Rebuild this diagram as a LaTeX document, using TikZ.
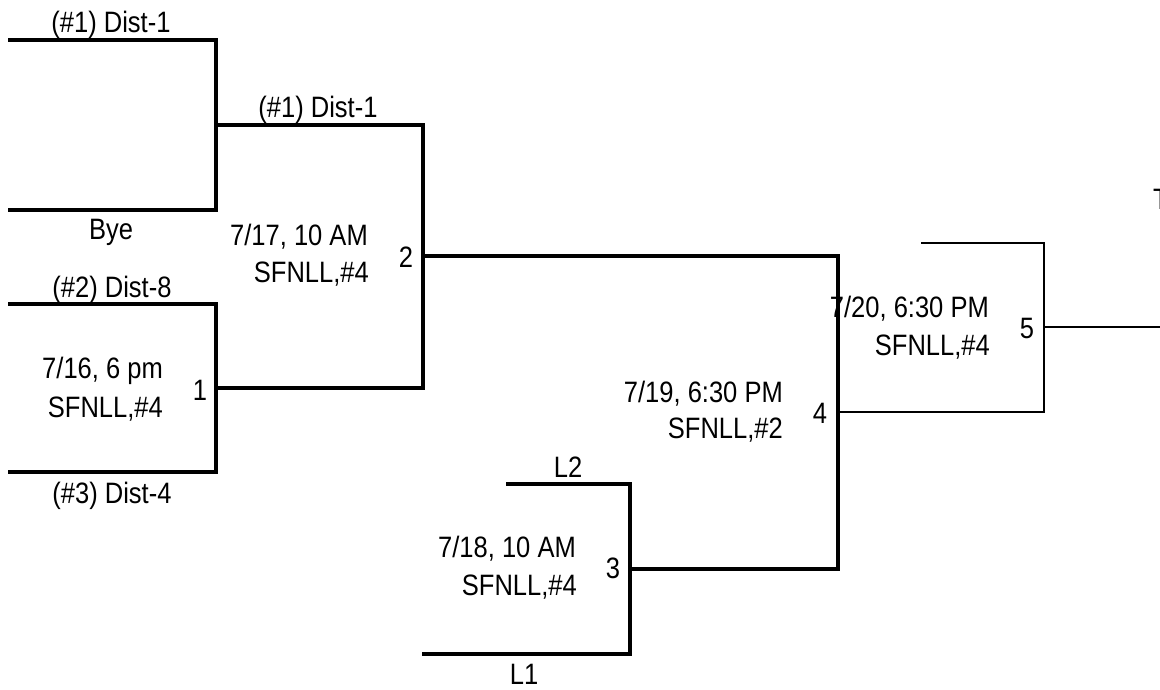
\documentclass[tikz,border=0pt]{standalone}
\usepackage{fontspec}
\setmainfont{Liberation Sans}[FakeStretch=0.865]
\begin{document}
\begin{tikzpicture}[x=1pt,y=-1pt,
  thickln/.style={line width=4pt,line join=miter,line cap=butt},
  thinln/.style={line width=1.5pt,line join=miter,line cap=butt},
  lbl/.style={inner sep=0pt,font=\fontsize{29.5}{36}\selectfont}]
\useasboundingbox (0,0) rectangle (1160,689);
\clip (0,0) rectangle (1160,689);
% coordinates
\coordinate (a1) at (8,40);   \coordinate (a2) at (216,40);
\coordinate (b1) at (8,210);  \coordinate (b2) at (216,210);
\coordinate (c1) at (8,304);  \coordinate (c2) at (216,304);
\coordinate (d1) at (8,472);  \coordinate (d2) at (216,472);
\coordinate (w0) at (216,125); \coordinate (w0e) at (423,125);
\coordinate (w1) at (216,388); \coordinate (w1e) at (423,388);
\coordinate (w2) at (423,256); \coordinate (w2e) at (838,256);
\coordinate (l2a) at (506,484); \coordinate (l2b) at (630,484);
\coordinate (l1a) at (422,654); \coordinate (l1b) at (630,654);
\coordinate (w3) at (630,569); \coordinate (w3e) at (838,569);
\coordinate (w4) at (838,412); \coordinate (w4e) at (1044,412);
\coordinate (t5a) at (921,243); \coordinate (t5b) at (1044,243);
\coordinate (w5) at (1044,327); \coordinate (w5e) at (1160,327);
% brackets
\draw[thickln] (a1) -- (a2) -- (b2) -- (b1);
\draw[thickln] (c1) -- (c2) -- (d2) -- (d1);
\draw[thickln] (w0) -- (w0e) -- (w1e) -- (w1);
\draw[thickln] (w2) -- (w2e) -- (w3e) -- (w3);
\draw[thickln] (l2a) -- (l2b) -- (l1b) -- (l1a);
\draw[thinln] (w4) -- (w4e) -- (t5b) -- (t5a);
\draw[thinln] (w5) -- (w5e);
% labels
\node[lbl,anchor=base] (n1) at (111,32) {(\#1) Dist-1};
\node[lbl,anchor=base] (n2) at (111,239) {Bye};
\node[lbl,anchor=base] (n3) at (112,297) {(\#2) Dist-8};
\node[lbl,anchor=base] (n4) at (112,503) {(\#3) Dist-4};
\node[lbl,anchor=base] (n5) at (318,117) {(\#1) Dist-1};
\node[lbl,anchor=base east] (g2a) at (368,245) {7/17, 10 AM};
\node[lbl,anchor=base east] (g2b) at (369,282) {SFNLL,\#4};
\node[lbl,anchor=base] (m2) at (406,267) {2};
\node[lbl,anchor=base east] (g1a) at (163,378) {7/16, 6 pm};
\node[lbl,anchor=base east] (g1b) at (163,417) {SFNLL,\#4};
\node[lbl,anchor=base] (m1) at (200,400) {1};
\node[lbl,anchor=base] (n6) at (568,477) {L2};
\node[lbl,anchor=base] (n7) at (524,684) {L1};
\node[lbl,anchor=base east] (g3a) at (576,557) {7/18, 10 AM};
\node[lbl,anchor=base east] (g3b) at (577,595) {SFNLL,\#4};
\node[lbl,anchor=base] (m3) at (613,578) {3};
\node[lbl,anchor=base east] (g4a) at (783,402) {7/19, 6:30 PM};
\node[lbl,anchor=base east] (g4b) at (783,438) {SFNLL,\#2};
\node[lbl,anchor=base] (m4) at (820,423) {4};
\node[lbl,anchor=base east] (g5a) at (989,317) {7/20, 6:30 PM};
\node[lbl,anchor=base east] (g5b) at (990,355) {SFNLL,\#4};
\node[lbl,anchor=base] (m5) at (1027,338) {5};
\node[lbl,anchor=base west] (tt) at (1153,209) {T};
\end{tikzpicture}
\end{document}
